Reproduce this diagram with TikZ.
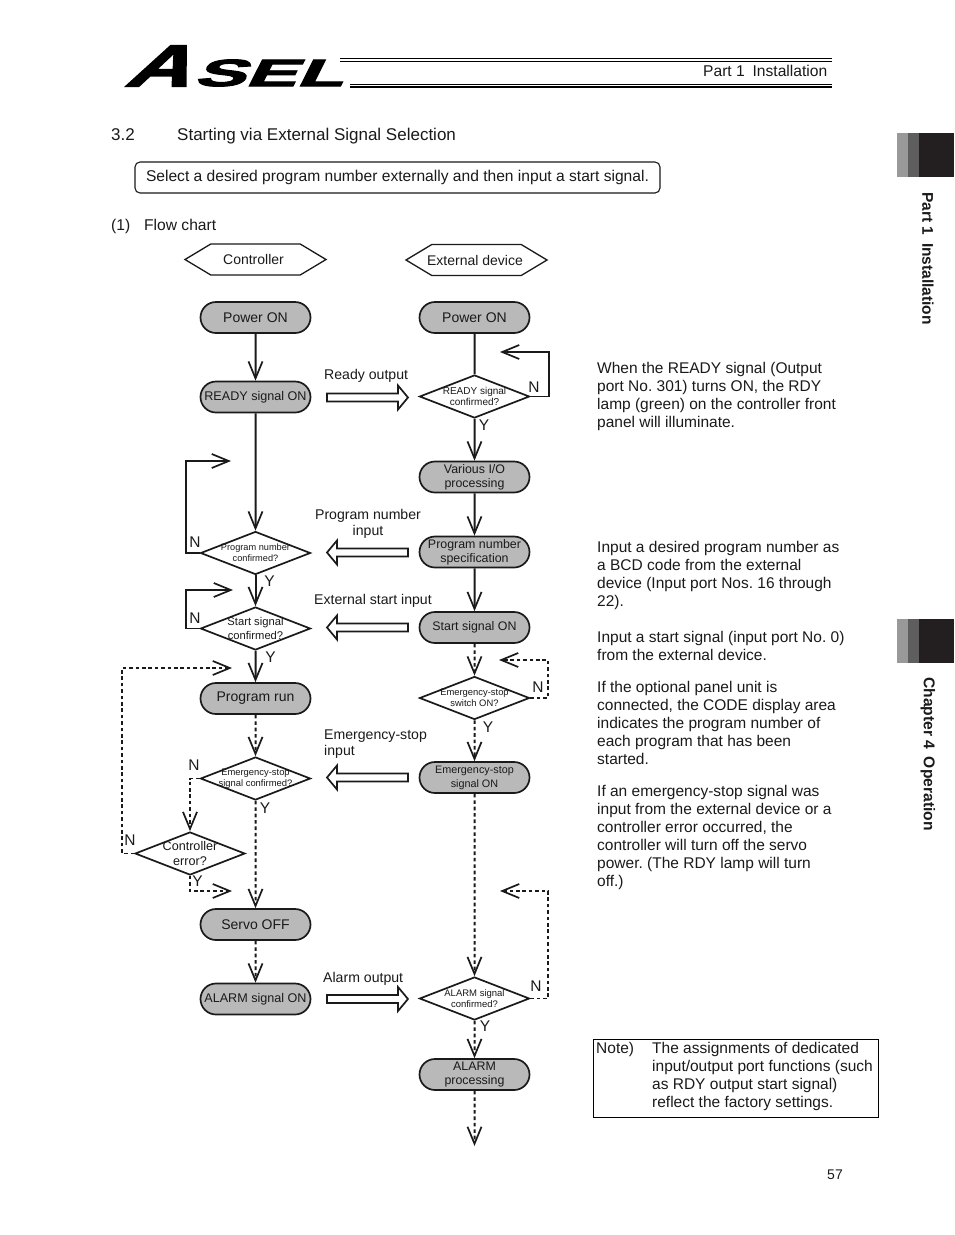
\documentclass[tikz,border=0pt]{standalone}
\usepackage{fontspec}
\setmainfont{Liberation Sans}
\newfontfamily\logofont[BoldFeatures={FakeBold=2.5}]{Liberation Sans}
\frenchspacing
\usetikzlibrary{arrows.meta,shapes.geometric,shapes.misc,shapes.symbols}
\newcommand{\fs}[1]{\fontsize{#1}{#1}\selectfont}
\newcommand{\dfs}[1]{\pgfmathsetmacro\dfsl{#1*1.18}\fontsize{#1}{\dfsl}\selectfont}
\definecolor{ink}{HTML}{1A1A1A}
\definecolor{tabdark}{HTML}{231F20}
\definecolor{termfill}{HTML}{B9B9B9}
\tikzset{
  x=1pt,y=-1pt,
  every node/.style={text=ink},
  line/.style={line width=2pt,draw=ink},
  thinline/.style={line width=1.7pt,draw=ink},
  dashline/.style={line width=2pt,draw=ink,dash pattern=on 3.6pt off 2.8pt},
  thindash/.style={line width=1.5pt,draw=ink,dash pattern=on 3.6pt off 2.8pt},
  tip/.style={-{Straight Barb[length=17pt,width=14pt,line width=1.7pt]}},
  term/.style={rounded rectangle,draw=ink,line width=1.7pt,fill=termfill,minimum width=110pt,minimum height=31pt,inner sep=0pt,align=center,font=\fontsize{#1}{14}\selectfont},
  term/.default=14,
  deci/.style={diamond,draw=ink,line width=1.7pt,fill=white,minimum width=110pt,minimum height=43pt,inner sep=0pt},
  dtext/.style={inner sep=0pt,align=center,font=\dfs{#1}},
  hexa/.style={signal,signal to=east and west,signal pointer angle=62,draw=ink,line width=1.3pt,fill=white,minimum width=141pt,minimum height=31pt,inner sep=0pt},
  hextext/.style={inner sep=0pt,font=\fs{14}},
  txt/.style={anchor=base west,inner sep=0pt,font=\fs{15.6}},
  body/.style={anchor=north west,inner sep=0pt,align=left,font=\fontsize{15.5}{18}\selectfont},
  flag/.style={inner sep=0pt,font=\fs{15.5}},
  lab/.style={inner sep=0pt,align=left,font=\fontsize{14.1}{16}\selectfont},
  blockline/.style={line width=1.7pt,draw=ink,fill=white,line join=miter},
  blockr/.pic={\draw[blockline] (0,-4)--(71,-4)--(71,-12)--(81,0)--(71,12)--(71,4)--(0,4)--cycle;},
}
\begin{document}
\begin{tikzpicture}
\useasboundingbox (0,0) rectangle (954,1235);
\fill[white] (0,0) rectangle (954,1235);

% page furniture
\node[inner sep=0pt,text=black,font=\logofont\bfseries\fs{59},transform shape,xscale=1.5,xslant=.37] (logoA) at (167,66) {A};
\node[inner sep=0pt,text=black,font=\logofont\bfseries\fs{38},transform shape,xscale=2.02,xslant=.25] (logoS) at (274.5,73) {SEL};
\draw[line width=1.6pt,black] (340,58.5) -- (832,58.5);
\draw[line width=.8pt,black] (340,61.5) -- (832,61.5);
\draw[line width=.8pt,black] (350,84.5) -- (832,84.5);
\draw[line width=1.6pt,black] (350,87) -- (832,87);
\node[txt] (part) at (703,76.5) {Part 1\hspace{.5em}Installation};
\node[txt,font=\fs{17}] (secno) at (111,140) {3.2};
\node[txt,font=\fs{17}] (sectitle) at (177,140) {Starting via External Signal Selection};
\node[rectangle,rounded corners=5pt,draw=ink,line width=1.1pt,minimum width=525pt,minimum height=31pt,inner sep=0pt,font=\fs{15.6}] (intro) at (397.5,177.5) {Select a desired program number externally and then input a start signal.};
\node[txt] (fcno) at (111,230.5) {(1)};
\node[txt] (fctitle) at (144,230.5) {Flow chart};

% tabs
\fill[black!40] (897,133) rectangle (908,177);
\fill[black!63] (908,133) rectangle (919,177);
\fill[tabdark] (919,133) rectangle (954,177);
\fill[black!40] (897,619) rectangle (908,663);
\fill[black!63] (908,619) rectangle (919,663);
\fill[tabdark] (919,619) rectangle (954,663);
\node[inner sep=0pt,rotate=-90,anchor=west,font=\bfseries\fs{15.5}] (tab1) at (928,192) {Part 1\hspace{.5em}Installation};
\node[inner sep=0pt,rotate=-90,anchor=west,font=\bfseries\fs{15.6}] (tab2) at (928,677) {Chapter 4\hspace{.5em}Operation};

% headers
\node[hexa,label={[hextext,xshift=-2pt]center:Controller}] (hctrl) at (255.5,259.5) {};
\node[hexa,label={[hextext,xshift=-1.5pt]center:External device}] (hext) at (476.5,260) {};

% controller column
\node[term] (pon1) at (255.5,317.5) {Power ON};
\node[term=12.6] (rdy1) at (255.5,397) {READY signal ON};
\node[deci,label={[dtext=9.2]center:Program number\\confirmed?}] (dprog) at (255.5,553) {};
\node[deci,label={[dtext=11.2]center:Start signal\\confirmed?}] (dstart) at (255.5,628.5) {};
\node[term] (run) at (255.5,698.5) {Program run};
\node[deci,label={[dtext=9.4]center:Emergency-stop\\signal confirmed?}] (destop) at (255.5,778.5) {};
\node[deci,label={[dtext=12.6]center:Controller\\error?}] (dctrl) at (190,853.5) {};
\node[term] (servo) at (255.5,924.5) {Servo OFF};
\node[term=12.6] (alm1) at (255.5,999) {ALARM signal ON};

% external column
\node[term] (pon2) at (474.5,317.5) {Power ON};
\node[deci,label={[dtext=10]center:READY signal\\confirmed?}] (drdy) at (474.5,396.5) {};
\node[term=12.4] (vario) at (474.5,477) {Various I/O\\processing};
\node[term=12.4] (pspec) at (474.5,552) {Program number\\specification};
\node[term=12.4] (sson) at (474.5,627.5) {Start signal ON};
\node[deci,label={[dtext=9.4]center:Emergency-stop\\switch ON?}] (dsw) at (474.5,698) {};
\node[term=10.8] (eson) at (474.5,777.5) {Emergency-stop\\signal ON};
\node[deci,label={[dtext=9.5]center:ALARM signal\\confirmed?}] (dalm) at (474.5,998.5) {};
\node[term=12.4] (aproc) at (474.5,1074.5) {ALARM\\processing};

% free ends and corners
\coordinate (c1) at (549,352); \coordinate (t1) at (500,352);
\coordinate (c2) at (186,461); \coordinate (t2) at (231,461);
\coordinate (c3) at (186,590); \coordinate (t3) at (233,590);
\coordinate (c4) at (548,660); \coordinate (t4) at (499,660);
\coordinate (c5) at (122,668); \coordinate (t5) at (232,668);
\coordinate (t6) at (232,891);
\coordinate (c7) at (548,891); \coordinate (t7) at (500,891);
\coordinate (endp) at (474.5,1146);

% solid connectors
\draw[line,tip] (pon1) -- (rdy1);
\draw[line,tip] (rdy1) -- (dprog.north);
\draw[line,tip] (dprog.south) -- (dstart.north);
\draw[line,tip] (dstart.south) -- (run);
\draw[line] (pon2) -- (drdy.north);
\draw[line,tip] (drdy.south) -- (vario);
\draw[line,tip] (vario) -- (pspec);
\draw[line,tip] (pspec) -- (sson);
\draw[thinline,tip] (drdy.east) -| (c1) -- (t1);
\draw[thinline,tip] (dprog.west) -| (c2) -- (t2);
\draw[thinline,tip] (dstart.west) -| (c3) -- (t3);

% dashed connectors
\draw[dashline,tip] (run) -- (destop.north);
\draw[dashline,tip] (destop.south) -- (servo);
\draw[dashline,tip] (servo) -- (alm1);
\draw[dashline,tip] (sson) -- (dsw.north);
\draw[dashline,tip] (dsw.south) -- (eson);
\draw[dashline,tip] (eson) -- (dalm.north);
\draw[dashline,tip] (dalm.south) -- (aproc);
\draw[dashline,tip] (aproc) -- (endp);
\draw[thindash,tip] (dsw.east) -| (c4) -- (t4);
\draw[thindash,tip] (destop.west) -| (dctrl.north);
\draw[thindash,tip] (dctrl.west) -| (c5) -- (t5);
\draw[thindash,tip] (dctrl.south) |- (t6);
\draw[thindash,tip] (dalm.east) -| (c7) -- (t7);

% block arrows
\pic at (327,397.5) {blockr};
\pic[xscale=-1] at (408,552.5) {blockr};
\pic[xscale=-1] at (408,627.5) {blockr};
\pic[xscale=-1] at (408,777.5) {blockr};
\pic at (327,999) {blockr};

% signal labels
\node[lab,anchor=west] (l1) at (324,376) {Ready output};
\node[lab,align=center] (l2) at (368,524) {Program number\\[-.5pt]input};
\node[lab,anchor=west] (l3) at (314,601) {External start input};
\node[lab,anchor=west] (l4) at (324,744) {Emergency-stop\\input};
\node[lab,anchor=west] (l5) at (323,979) {Alarm output};

% branch flags
\node[flag] (n1) at (534,387) {N};
\node[flag] (y1) at (484,425.5) {Y};
\node[flag] (n2) at (195,542) {N};
\node[flag] (y2) at (269.5,581.5) {Y};
\node[flag] (n3) at (195,618) {N};
\node[flag] (y3) at (270.5,657) {Y};
\node[flag] (n4) at (538,687) {N};
\node[flag] (y4) at (488,727) {Y};
\node[flag] (n5) at (194,765) {N};
\node[flag] (y5) at (265,808) {Y};
\node[flag] (n6) at (130,840) {N};
\node[flag] (y6) at (197.5,881) {Y};
\node[flag] (n7) at (536,986) {N};
\node[flag] (y7) at (485,1026) {Y};

% explanations
\node[body] (b1) at (597,362) {When the READY signal (Output\\port No. 301) turns ON, the RDY\\lamp (green) on the controller front\\panel will illuminate.};
\node[body] (b2) at (597,541) {Input a desired program number as\\a BCD code from the external\\device (Input port Nos. 16 through\\22).};
\node[body] (b3) at (597,631) {Input a start signal (input port No. 0)\\from the external device.};
\node[body] (b4) at (597,681) {If the optional panel unit is\\connected, the CODE display area\\indicates the program number of\\each program that has been\\started.};
\node[body] (b5) at (597,785) {If an emergency-stop signal was\\input from the external device or a\\controller error occurred, the\\controller will turn off the servo\\power. (The RDY lamp will turn\\off.)};

% note
\node[rectangle,draw=black,line width=.9pt,minimum width=285pt,minimum height=78pt,inner sep=0pt] (notebox) at (736,1078.5) {};
\node[txt,font=\fs{15.5}] (notel) at (596,1053.5) {Note)};
\node[body] (notet) at (652,1042) {The assignments of dedicated\\input/output port functions (such\\as RDY output start signal)\\reflect the factory settings.};
\node[inner sep=0pt,font=\fs{14}] (pageno) at (835,1175) {57};
\end{tikzpicture}
\end{document}
